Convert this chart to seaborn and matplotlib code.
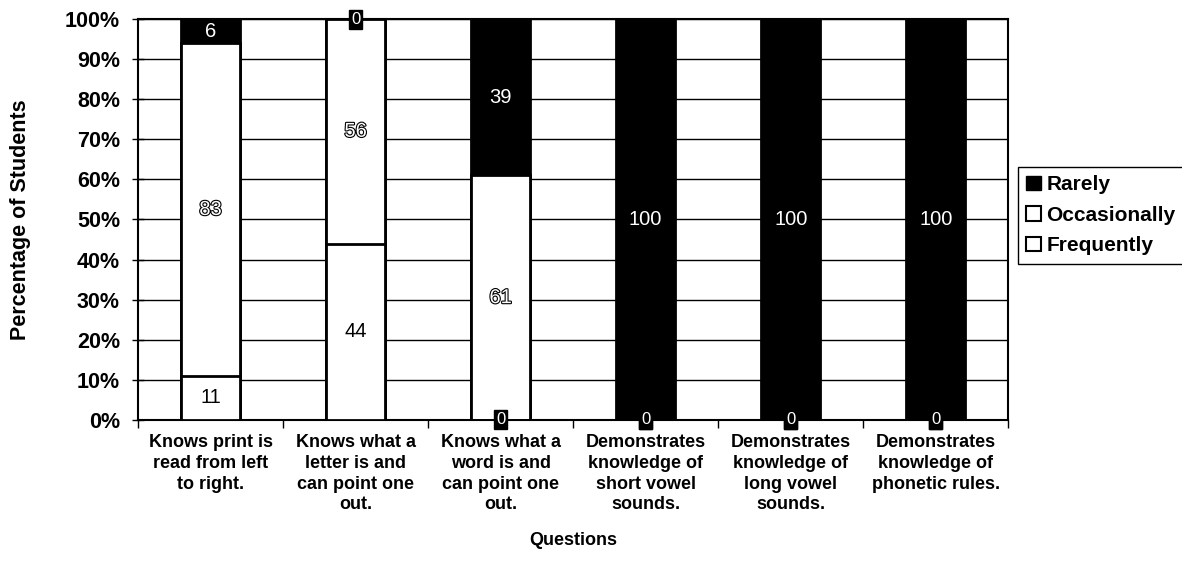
import matplotlib
matplotlib.use("Agg")
import matplotlib.pyplot as plt
import matplotlib.patheffects as pe
from matplotlib.patches import Patch
from matplotlib.ticker import FixedLocator, PercentFormatter
import numpy as np
import pandas as pd
import seaborn as sns

questions = [
    "Knows print is\nread from left\nto right.",
    "Knows what a\nletter is and\ncan point one\nout.",
    "Knows what a\nword is and\ncan point one\nout.",
    "Demonstrates\nknowledge of\nshort vowel\nsounds.",
    "Demonstrates\nknowledge of\nlong vowel\nsounds.",
    "Demonstrates\nknowledge of\nphonetic rules.",
]
frequently = [11, 44, 0, 0, 0, 0]
occasionally = [83, 56, 61, 0, 0, 0]
rarely = [6, 0, 39, 100, 100, 100]
y_ticks = [0, 10, 20, 30, 40, 50, 60, 70, 80, 90, 100]

sns.set_theme(style="white")
plt.rcParams["font.family"] = ["Liberation Sans", "DejaVu Sans"]
plt.rcParams["text.color"] = "black"
plt.rcParams["axes.labelcolor"] = "black"
plt.rcParams["xtick.color"] = "black"
plt.rcParams["ytick.color"] = "black"

df = pd.DataFrame({
    "question": questions,
    "Frequently": frequently,
    "Occasionally": occasionally,
    "Rarely": rarely,
})
df["cum_f"] = df["Frequently"]
df["cum_o"] = df["cum_f"] + df["Occasionally"]
df["cum_r"] = df["cum_o"] + df["Rarely"]

fig = plt.figure(figsize=(11.82, 5.76), dpi=100)
ax = fig.add_axes([0.1168, 0.271, 0.7362, 0.696])

bar_w = 0.41
edge_kw = dict(edgecolor="black", linewidth=2, width=bar_w, zorder=3)
# stacked by overlaying cumulative totals, top segment first
sns.barplot(data=df, x="question", y="cum_r", color="black", saturation=1, ax=ax, **edge_kw)
sns.barplot(data=df, x="question", y="cum_o", color="white", saturation=1, ax=ax, **edge_kw)
sns.barplot(data=df, x="question", y="cum_f", color="white", saturation=1, ax=ax, **edge_kw)

ax.set_xlim(-0.5, len(questions) - 0.5)
ax.set_ylim(0, 100)
ax.yaxis.set_major_locator(FixedLocator(y_ticks))
ax.yaxis.set_major_formatter(PercentFormatter(decimals=0))
ax.grid(axis="y", color="black", linewidth=1.0, zorder=0)
ax.set_axisbelow(True)
for s in ax.spines.values():
    s.set_color("black")
    s.set_linewidth(1.5)

ax.tick_params(axis="y", which="major", direction="inout", length=8, width=1,
               colors="black", labelsize=15.5, left=True, pad=9)
for lab in ax.get_yticklabels():
    lab.set_fontweight("bold")
ax.set_xticks(range(len(questions)))
ax.set_xticklabels(questions, fontsize=13, fontweight="bold", linespacing=1.3)
ax.tick_params(axis="x", which="major", length=0, pad=10, colors="black")
ax.xaxis.set_minor_locator(FixedLocator(np.arange(-0.5, len(questions), 1.0)))
ax.tick_params(axis="x", which="minor", direction="out", length=6, width=1,
               colors="black", bottom=True)

ax.set_xlabel("Questions", fontsize=13, fontweight="bold", va="center", color="black")
ax.xaxis.set_label_coords(0.5, -0.30)
ax.set_ylabel("Percentage of Students", fontsize=15.5, fontweight="bold", va="center",
              color="black")
ax.yaxis.set_label_coords(-0.135, 0.5)

outline = [pe.withStroke(linewidth=1.6, foreground="black")]
zero_box = dict(boxstyle="square,pad=0.12", facecolor="black", edgecolor="black")
for i in range(len(questions)):
    segs = [
        (frequently[i], 0, "plain"),
        (occasionally[i], frequently[i], "outline"),
        (rarely[i], frequently[i] + occasionally[i], "dark"),
    ]
    for val, base, style in segs:
        y = base + val / 2
        if val == 0:
            ax.text(i, y, "0", ha="center", va="center", fontsize=12, color="white",
                    bbox=zero_box, zorder=6, clip_on=False)
        elif style == "plain":
            ax.text(i, y, f"{val}", ha="center", va="center", fontsize=14.5,
                    color="black", zorder=5)
        elif style == "outline":
            ax.text(i, y, f"{val}", ha="center", va="center", fontsize=14.5,
                    color="white", path_effects=outline, zorder=5)
        else:
            ax.text(i, y, f"{val}", ha="center", va="center", fontsize=14.5,
                    color="white", zorder=5)

handles = [
    Patch(facecolor="black", edgecolor="black", label="Rarely"),
    Patch(facecolor="white", edgecolor="black", linewidth=1.5, label="Occasionally"),
    Patch(facecolor="white", edgecolor="black", linewidth=1.5, label="Frequently"),
]
leg = fig.legend(handles=handles, loc="upper left", bbox_to_anchor=(1018 / 1182, 1 - 167 / 576),
                 frameon=True, fancybox=False, edgecolor="black", framealpha=1,
                 handlelength=0.7, handleheight=0.7, handletextpad=0.25,
                 borderpad=0.4, labelspacing=0.55, borderaxespad=0,
                 prop={"size": 15, "weight": "bold"})
leg.get_frame().set_linewidth(1.0)

fig.savefig("out.png", dpi=100, facecolor="white")
